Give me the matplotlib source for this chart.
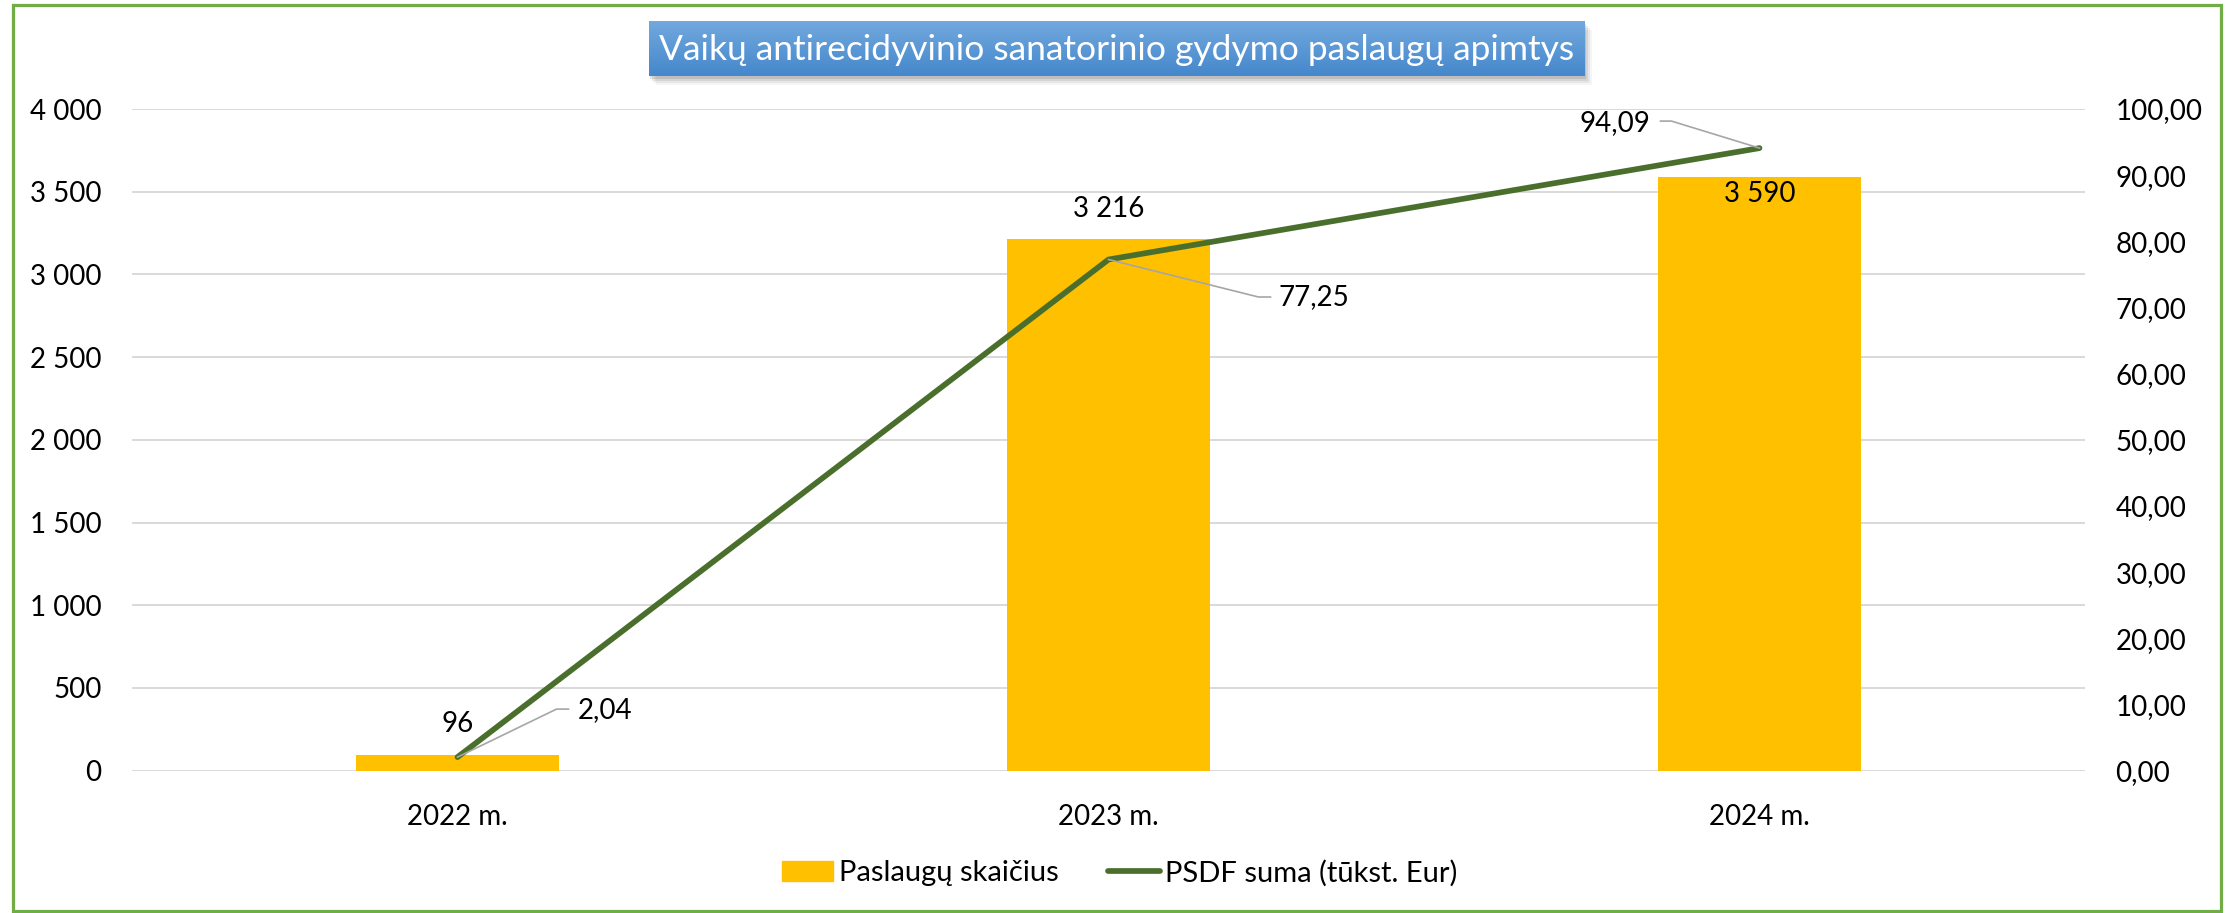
import numpy as np
import matplotlib
matplotlib.use("Agg")
import matplotlib.pyplot as plt
from matplotlib.patches import Rectangle
from matplotlib.lines import Line2D
from matplotlib.ticker import FuncFormatter, MultipleLocator

# ---------------- data ----------------
categories = ["2022 m.", "2023 m.", "2024 m."]
services = [96, 3216, 3590]          # Paslaugų skaičius
psdf = [2.04, 77.25, 94.09]          # PSDF suma (tūkst. Eur)
title = "Vaikų antirecidyvinio sanatorinio gydymo paslaugų apimtys"
bar_label = "Paslaugų skaičius"
line_label = "PSDF suma (tūkst. Eur)"

FONT = ["Lato", "DejaVu Sans"]
plt.rcParams["font.family"] = FONT

W, H, DPI = 2233, 913, 100
fig = plt.figure(figsize=(W / DPI, H / DPI), dpi=DPI)

def fx(px):
    return px / W

def fy(py):
    return 1 - py / H

BAR_C = "#FFC000"
LINE_C = "#4A6F2C"
GRID_C = "#D9D9D9"
FS = 20

ax_l, ax_r, ax_t, ax_b = 132, 2085, 109, 770.6
ax = fig.add_axes([fx(ax_l), fy(ax_b), fx(ax_r - ax_l), (ax_b - ax_t) / H])
ax2 = ax.twinx()
ax.set_zorder(1)
ax2.set_zorder(2)
ax.patch.set_visible(False)
ax2.patch.set_visible(False)

x = np.arange(len(categories))
ax.bar(x, services, width=0.312, color=BAR_C, zorder=3)
ax.set_xlim(-0.5, len(categories) - 0.5)
ax.set_ylim(0, 4000)
ax.yaxis.set_major_locator(MultipleLocator(500))
ax.yaxis.set_major_formatter(FuncFormatter(lambda v, p: f"{int(v):,}".replace(",", " ")))
ax.grid(axis="y", color=GRID_C, lw=1.4, zorder=0)
ax.set_axisbelow(True)
for s in ax.spines.values():
    s.set_visible(False)
for s in ax2.spines.values():
    s.set_visible(False)
ax.tick_params(axis="y", length=0, pad=22, labelsize=FS)
ax.tick_params(axis="x", length=0, pad=24, labelsize=FS)
ax.set_xticks(x)
ax.set_xticklabels(categories)

ax2.plot(x, psdf, color=LINE_C, lw=4.1, solid_capstyle="round", solid_joinstyle="round", zorder=4)
ax2.set_ylim(0, 100)
ax2.yaxis.set_major_locator(MultipleLocator(10))
ax2.yaxis.set_major_formatter(FuncFormatter(lambda v, p: f"{v:.2f}".replace(".", ",")))
ax2.tick_params(axis="y", length=0, pad=22, labelsize=FS)

# bar data labels
bar_offsets = [31, 30, -17]
for xi, v, off in zip(x, services, bar_offsets):
    ax.annotate(f"{v:,}".replace(",", " "), xy=(xi, v), xytext=(0, off),
                textcoords="offset pixels", ha="center", va="center",
                fontsize=FS, color="black", zorder=6)

# line data labels with leader lines
fig.canvas.draw()
leaders = [((99, 48), (111, 48), (120, 47), "left"),
           ((150, -37.5), (162, -37.5), (170, -38), "left"),
           ((-88, 27), (-99, 27), (-109, 25), "right")]
for xi, v, (e1, e2, t, ha) in zip(x, psdf, leaders):
    px, py = ax2.transData.transform((xi, v))
    xs = [px, px + e1[0], px + e2[0]]
    ys = [py, py + e1[1], py + e2[1]]
    fig.add_artist(Line2D(xs, ys, transform=None, color="#A6A6A6", lw=1.2, zorder=5))
    ax2.annotate(f"{v:.2f}".replace(".", ","), xy=(xi, v), xytext=t,
                 textcoords="offset pixels", ha=ha, va="center",
                 fontsize=FS, color="black")

# legend
handles = [Rectangle((0, 0), 1, 1, color=BAR_C),
           Line2D([0], [0], color=LINE_C, lw=4.1, solid_capstyle="round")]
fig.legend(handles, [bar_label, line_label], loc="center",
           bbox_to_anchor=(fx(1120), fy(873)), ncol=2, frameon=False,
           fontsize=21, handlelength=1.75, handletextpad=0.2,
           columnspacing=1.7, handleheight=0.7)

# title box with gradient and shadow
bx0, bx1, by0, by1 = 649, 1585, 21, 76
for i, a in enumerate([0.10, 0.08, 0.06, 0.04]):
    d = 3 + i * 2
    fig.add_artist(Rectangle((fx(bx0 + d - 2), fy(by1 + d)), fx(bx1 - bx0), (by1 - by0) / H,
                             transform=fig.transFigure, facecolor="black",
                             alpha=a, edgecolor="none", zorder=1))
tax = fig.add_axes([fx(bx0), fy(by1), fx(bx1 - bx0), (by1 - by0) / H], zorder=3)
grad = np.linspace(0, 1, 100).reshape(-1, 1)
top = np.array([0x72, 0xA9, 0xDE]) / 255
bot = np.array([0x45, 0x87, 0xCC]) / 255
img = top[None, None, :] * (1 - grad[:, :, None]) + bot[None, None, :] * grad[:, :, None]
tax.imshow(img, aspect="auto", extent=(0, 1, 0, 1), origin="upper")
tax.set_axis_off()
tax.text(0.5, 0.47, title, ha="center", va="center", color="white",
         fontsize=25.5, transform=tax.transAxes)

# figure border
fig.add_artist(Rectangle((fx(13.3), fy(911)), fx(2221 - 13.3), (911 - 5) / H,
                         transform=fig.transFigure, fill=False,
                         edgecolor="#70AD47", lw=2.3, zorder=10))

fig.savefig("out.png", dpi=DPI)
